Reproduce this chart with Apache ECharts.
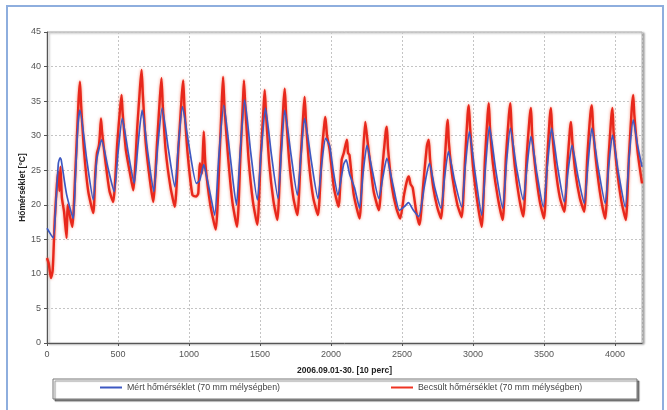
<!DOCTYPE html>
<html>
<head>
<meta charset="utf-8">
<script src="https://cdn.jsdelivr.net/npm/echarts@6/dist/echarts.min.js"></script>
<style>
  html, body { margin: 0; padding: 0; background: #ffffff; }
  #chart { width: 667px; height: 410px; }
</style>
</head>
<body>
<div id="chart"></div>
<script>
// Soil temperature at 70 mm depth, September 2006, 10-minute steps
const seriesNames = [
  'Mért hőmérséklet (70 mm mélységben)',
  'Becsült hőmérséklet (70 mm mélységben)'
];
const xTitle = '2006.09.01-30. [10 perc]';
const yTitle = 'Hőmérséklet [°C]';

// measured temperature: [10-minute index, °C]
const measured = [
  [0, 16.6], [44, 15.2], [62, 20], [80, 26.0], [92, 26.8], [100, 26.5], [138, 21.5], [185, 18.0],
  [200, 24], [218, 31.5], [232, 33.7], [280, 26.5], [326, 20.7],
  [350, 26.5], [365, 28], [384, 29.4], [430, 25.3], [473, 21.9],
  [500, 27.5], [530, 32.5], [572, 27.5], [614, 23.1],
  [640, 28.5], [670, 33.7], [710, 27.5], [752, 21.9],
  [780, 28.5], [811, 34.0], [855, 28.0], [900, 22.6],
  [925, 28.5], [954, 34.2], [1000, 28.5], [1052, 23.1],
  [1075, 23.5], [1104, 25.8], [1120, 24.5], [1150, 21.5], [1181, 18.5],
  [1210, 27], [1245, 34.4], [1290, 27.0], [1334, 20.0],
  [1360, 27.5], [1392, 35.2], [1435, 27.5], [1481, 20.7],
  [1508, 27.5], [1538, 34.0], [1580, 27.3], [1627, 20.9],
  [1650, 27.5], [1674, 33.7], [1718, 27.3], [1763, 21.4],
  [1788, 27], [1814, 32.5], [1860, 26.5], [1908, 20.9],
  [1935, 26], [1962, 29.6], [1990, 28.6], [2015, 25.0], [2049, 21.4],
  [2088, 25.8], [2107, 26.5], [2130, 24.5], [2165, 22.5], [2201, 19.5],
  [2228, 25], [2253, 28.6], [2290, 25.0], [2337, 20.9],
  [2365, 24], [2393, 26.7], [2435, 23.0], [2482, 19.2],
  [2520, 19.8], [2545, 20.3], [2580, 19.2], [2618, 18.3],
  [2660, 23], [2693, 26.0], [2730, 22.5], [2775, 19.5],
  [2800, 24], [2827, 27.7], [2870, 23.5], [2920, 19.7],
  [2945, 25.5], [2974, 30.6], [3015, 24.5], [3061, 18.5],
  [3088, 25.5], [3115, 31.3], [3160, 25.0], [3209, 19.5],
  [3235, 26], [3263, 31.1], [3305, 25.5], [3354, 20.7],
  [3380, 25.5], [3408, 29.9], [3450, 24.5], [3495, 19.7],
  [3525, 26], [3553, 31.1], [3595, 25.5], [3643, 20.4],
  [3670, 25], [3697, 28.6], [3740, 24.0], [3783, 20.2],
  [3810, 26], [3837, 31.1], [3880, 25.5], [3931, 20.2],
  [3955, 25.5], [3982, 30.1], [4025, 24.5], [4072, 19.7],
  [4100, 27], [4128, 32.3], [4160, 28.5], [4190, 25.5]
];

// estimated temperature: [10-minute index, °C]
const estimated = [
  [0, 12.3], [12, 11.5], [28, 9.4], [40, 10.5], [55, 18], [70, 23], [80, 24.8], [88, 22], [95, 25.5],
  [105, 21], [120, 19], [138, 15.2], [145, 20], [160, 18.5], [178, 16.8],
  [200, 25], [222, 35], [232, 37.8], [240, 34.5], [260, 28], [290, 22], [326, 18.8],
  [340, 24.5], [352, 27.5], [365, 28.5], [372, 30], [380, 32.5], [388, 30.5], [410, 26.5], [440, 22], [466, 20.4],
  [495, 29], [515, 34], [525, 35.9], [532, 33.5], [555, 28], [585, 24.5], [607, 22.1],
  [635, 31], [655, 37], [666, 39.5], [675, 36], [695, 29], [725, 23.5], [748, 20.4],
  [775, 29], [795, 35.5], [806, 38.3], [815, 34.5], [835, 28], [870, 22.5], [900, 19.7],
  [925, 28], [948, 35.5], [959, 38.0], [968, 34], [990, 27.5], [1024, 21.4], [1050, 21.2], [1065, 21.6],
  [1076, 26.0], [1090, 24.5], [1104, 30.6], [1115, 26], [1150, 20], [1188, 16.4],
  [1215, 27], [1232, 35.5], [1240, 38.5], [1250, 34], [1275, 27], [1305, 20.5], [1338, 16.8],
  [1362, 27], [1380, 35], [1387, 38.0], [1397, 34], [1420, 26.5], [1450, 20.5], [1481, 17.1],
  [1505, 27], [1525, 34], [1533, 36.6], [1543, 33], [1565, 26], [1595, 20.5], [1622, 17.8],
  [1645, 27], [1665, 34.5], [1674, 36.8], [1684, 33], [1705, 26.5], [1735, 21], [1763, 18.5],
  [1787, 27], [1806, 33.5], [1814, 35.6], [1824, 32], [1845, 26], [1875, 21], [1908, 18.5],
  [1935, 27.5], [1952, 31.5], [1960, 32.7], [1972, 30], [1990, 28], [2020, 22.5], [2053, 19.7],
  [2075, 26.5], [2090, 27.5], [2112, 29.4], [2120, 27.5], [2130, 27.2], [2160, 21.5], [2201, 18.0],
  [2222, 26], [2241, 32.0], [2250, 30.5], [2270, 27], [2300, 22], [2337, 19.2],
  [2360, 25], [2385, 30.5], [2393, 31.3], [2402, 28], [2430, 22.5], [2460, 19.5], [2487, 18.0],
  [2515, 21.5], [2535, 23.5], [2548, 24.1], [2560, 23], [2575, 22.5], [2600, 19], [2623, 17.1],
  [2650, 23], [2675, 28.5], [2688, 29.4], [2698, 26.5], [2720, 22.5], [2750, 19.5], [2775, 18.0],
  [2800, 26], [2815, 31], [2822, 32.3], [2830, 29], [2855, 24], [2890, 20], [2920, 18.2],
  [2945, 27], [2962, 33], [2970, 34.4], [2980, 31], [3000, 25.5], [3030, 20.5], [3061, 16.8],
  [3085, 27], [3103, 33], [3111, 34.7], [3120, 31], [3140, 26], [3175, 21], [3209, 17.8],
  [3232, 27], [3253, 33], [3263, 34.7], [3272, 31], [3295, 25.5], [3325, 21], [3354, 18.3],
  [3378, 27], [3398, 32.5], [3408, 34.0], [3417, 30], [3440, 25], [3470, 20.5], [3500, 18.0],
  [3522, 26.5], [3540, 32.5], [3549, 34.0], [3558, 30.5], [3580, 25.5], [3612, 21], [3643, 19.0],
  [3665, 26], [3683, 31], [3690, 32.0], [3700, 29], [3722, 24.5], [3752, 21], [3783, 19.0],
  [3805, 27], [3826, 33], [3837, 34.4], [3846, 31], [3868, 26], [3900, 21], [3931, 18.0],
  [3955, 27], [3973, 32.5], [3982, 34.0], [3990, 30.5], [4012, 25.5], [4045, 20.5], [4076, 17.8],
  [4098, 27], [4118, 34], [4128, 35.9], [4136, 33], [4160, 27.5], [4190, 23.1]
];

const xMax = 4190;
const yMin = 0, yMax = 45, yStep = 5, xStep = 500;

const chart = echarts.init(document.getElementById('chart'), null, { renderer: 'canvas' });

const gridLine = { show: true, lineStyle: { color: '#c4c4c4', type: [2, 2], width: 1 } };
const labelFont = { fontFamily: 'Liberation Sans, Arial, sans-serif', fontSize: 9, color: '#555' };
const titleFont = { fontFamily: 'Liberation Sans, Arial, sans-serif', fontSize: 8.5, fontWeight: 'bold', color: '#222' };
const legendFont = { fontFamily: 'Liberation Sans, Arial, sans-serif', fontSize: 8.8, color: '#444' };

chart.setOption({
  animation: false,
  backgroundColor: '#ffffff',
  graphic: [
    // outer frame
    { type: 'rect', z: 0, shape: { x: 7, y: 6, width: 656, height: 430 },
      style: { fill: 'none', stroke: '#8eaede', lineWidth: 2 } },
    // legend box
    { type: 'rect', z: 0, shape: { x: 53, y: 379, width: 584, height: 20 },
      style: { fill: '#ffffff', stroke: '#777', lineWidth: 1,
               shadowColor: 'rgba(0,0,0,0.45)', shadowOffsetX: 2, shadowOffsetY: 2, shadowBlur: 1 } }
  ],
  grid: {
    left: 47, right: 25, top: 32, bottom: 67,
    show: true, backgroundColor: '#ffffff', borderColor: '#b0b0b0', borderWidth: 1,
    shadowColor: 'rgba(0,0,0,0.35)', shadowOffsetX: 2, shadowOffsetY: 1, shadowBlur: 2
  },
  legend: [
    { data: [seriesNames[0]], left: 100, top: 383, padding: 0, icon: 'rect',
      itemWidth: 22, itemHeight: 2, itemGap: 0, textStyle: legendFont },
    { data: [seriesNames[1]], left: 391, top: 383, padding: 0, icon: 'rect',
      itemWidth: 22, itemHeight: 2, itemGap: 0, textStyle: legendFont }
  ],
  xAxis: {
    type: 'value', min: 0, max: xMax, interval: xStep,
    name: xTitle, nameLocation: 'middle', nameGap: 23, nameTextStyle: titleFont,
    nameMoveOverlap: false,
    axisLine: { show: true, onZero: false, lineStyle: { color: '#555', width: 1 } },
    axisTick: { show: true, length: 3, lineStyle: { color: '#555' } },
    axisLabel: Object.assign({ margin: 7, showMaxLabel: false, formatter: v => String(v) }, labelFont),
    splitLine: gridLine
  },
  yAxis: {
    type: 'value', min: yMin, max: yMax, interval: yStep,
    name: yTitle, nameLocation: 'middle', nameGap: 20, nameRotate: 90, nameTextStyle: titleFont,
    nameMoveOverlap: false,
    axisLine: { show: true, lineStyle: { color: '#555', width: 1 } },
    axisTick: { show: true, length: 3, lineStyle: { color: '#555' } },
    axisLabel: Object.assign({ margin: 6 }, labelFont),
    splitLine: gridLine
  },
  series: [
    {
      name: seriesNames[1], type: 'line', data: estimated, z: 2,
      showSymbol: false, symbol: 'none', smooth: 0.2,
      color: '#ee3322',
      lineStyle: { color: '#e8281c', width: 2.4,
                   shadowColor: 'rgba(245,120,90,0.85)', shadowBlur: 3 }
    },
    {
      name: seriesNames[0], type: 'line', data: measured, z: 3,
      showSymbol: false, symbol: 'none', smooth: 0.2,
      color: '#3d58c2',
      lineStyle: { color: '#3d58c2', width: 1.7 }
    }
  ]
});
</script>
</body>
</html>
